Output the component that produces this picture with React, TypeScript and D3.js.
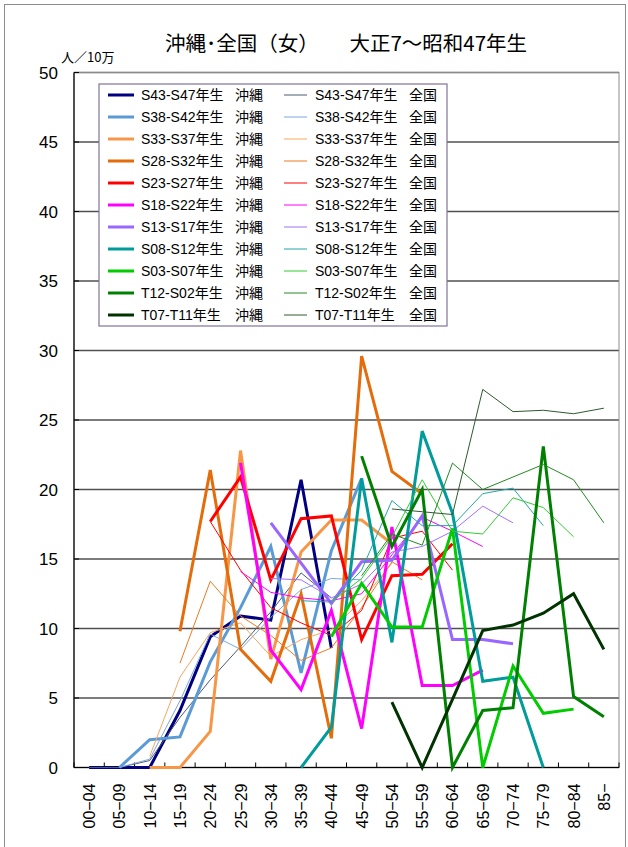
import React from "react";
import * as d3 from "d3";

const categories = ["00−04","05−09","10−14","15−19","20−24","25−29","30−34","35−39","40−44","45−49","50−54","55−59","60−64","65−69","70−74","75−79","80−84","85−"];
const yTicks = [0, 5, 10, 15, 20, 25, 30, 35, 40, 45, 50];
const cohorts = ["S43-S47年生","S38-S42年生","S33-S37年生","S28-S32年生","S23-S27年生","S18-S22年生","S13-S17年生","S08-S12年生","S03-S07年生","T12-S02年生","T07-T11年生"];
const okiColors = ["#000080","#5B9BD5","#F79646","#E46C0A","#FF0000","#FF00FF","#9966FF","#009B9B","#00CC00","#008000","#003300"];
const natColors = ["#4F5B6E","#7AA7DD","#F9A55F","#EE7A20","#FF0000","#FF00FF","#A070FF","#22A6A6","#33CC33","#228B22","#2E5A2E"];
const N = null;

// Okinawa (thick)
const okiS43S47 = [0,0,0,4.1,9.4,10.9,10.6,20.7,8.6,N,N,N,N,N,N,N,N,N];
const okiS38S42 = [N,0,2.0,2.2,7.6,11.5,15.9,6.8,15.6,20.8,N,N,N,N,N,N,N,N];
const okiS33S37 = [N,N,0,0,2.6,22.8,7.8,15.5,17.8,17.8,16.1,N,N,N,N,N,N,N];
const okiS28S32 = [N,N,N,9.8,21.4,8.5,6.2,12.5,2.1,29.6,21.3,19.7,N,N,N,N,N,N];
const okiS23S27 = [N,N,N,N,17.7,20.9,13.5,17.9,18.1,9.2,13.8,13.9,16.1,N,N,N,N,N];
const okiS18S22 = [N,N,N,N,N,21.9,8.45,5.6,11.3,2.8,17.3,5.9,5.9,7.0,N,N,N,N];
const okiS13S17 = [N,N,N,N,N,N,17.6,14.7,11.8,14.8,14.9,18.1,9.2,9.2,8.9,N,N,N];
const okiS08S12 = [N,N,N,N,N,N,N,0,2.9,20.8,9.0,24.2,18.3,6.2,6.5,0,N,N];
const okiS03S07 = [N,N,N,N,N,N,N,N,9.4,13.25,10.1,10.1,17.2,0,7.3,3.9,4.2,N];
const okiT12S02 = [N,N,N,N,N,N,N,N,N,22.4,15.9,20.0,0,4.1,4.3,23.1,5.1,3.65];
const okiT07T11 = [N,N,N,N,N,N,N,N,N,N,4.7,0,4.9,9.85,10.25,11.1,12.5,8.5];

// National (thin)
const natS43S47 = [0,0,0.5,3.6,6.3,8.7,11.2,14.0,12.2,N,N,N,N,N,N,N,N,N];
const natS38S42 = [N,0,0.6,4.8,9.6,8.5,10.8,12.8,13.6,13.5,N,N,N,N,N,N,N,N];
const natS33S37 = [N,N,0.8,6.5,9.7,10.4,8.0,9.2,9.9,12.0,14.7,N,N,N,N,N,N,N];
const natS28S32 = [N,N,N,7.5,13.4,10.9,9.5,7.7,8.6,11.5,14.8,13.5,N,N,N,N,N,N];
const natS23S27 = [N,N,N,N,17.7,14.2,11.5,10.4,9.5,11.3,16.5,17.0,14.2,N,N,N,N,N];
const natS18S22 = [N,N,N,N,N,14.1,12.6,12.2,12.0,12.5,15.3,18.0,17.0,15.9,N,N,N,N];
const natS13S17 = [N,N,N,N,N,N,13.6,13.5,12.2,13.2,15.5,15.9,17.0,18.8,17.6,N,N,N];
const natS08S12 = [N,N,N,N,N,N,N,12.0,11.9,14.2,19.2,17.4,17.4,19.7,20.1,17.4,N,N];
const natS03S07 = [N,N,N,N,N,N,N,N,11.9,13.6,16.6,20.7,17.0,16.8,19.4,18.7,16.6,N];
const natT12S02 = [N,N,N,N,N,N,N,N,N,13.8,16.8,16.0,21.9,20.0,20.9,21.8,20.7,17.6];
const natT07T11 = [N,N,N,N,N,N,N,N,N,N,18.6,18.4,18.2,27.2,25.6,25.7,25.45,25.85];

const okinawa = [okiS43S47, okiS38S42, okiS33S37, okiS28S32, okiS23S27, okiS18S22, okiS13S17, okiS08S12, okiS03S07, okiT12S02, okiT07T11];
const national = [natS43S47, natS38S42, natS33S37, natS28S32, natS23S27, natS18S22, natS13S17, natS08S12, natS03S07, natT12S02, natT07T11];

const FONT = "'Liberation Sans', 'Noto Sans CJK JP', sans-serif";
const CJK = "'Noto Sans CJK JP', sans-serif";

export default function App() {
  const W = 628, H = 847;
  const left = 74, right = 619, top = 72.5, bottom = 767.5;
  const x = d3.scaleBand<string>().domain(categories).range([left, right]);
  const y = d3.scaleLinear().domain([0, 50]).range([bottom, top]);
  const cx = (i: number) => (x(categories[i]) as number) + x.bandwidth() / 2;
  const line = d3.line<number | null>()
    .defined((d) => d != null)
    .x((_, i) => cx(i))
    .y((d) => y(d as number));

  const series: { data: (number | null)[]; color: string; width: number }[] = [];
  okinawa.forEach((d, i) => {
    series.push({ data: d, color: okiColors[i], width: 3 });
    series.push({ data: national[i], color: natColors[i], width: 1 });
  });

  const boundaries = d3.range(categories.length + 1).map((i) => left + i * x.bandwidth());

  const legX = 99, legY = 84, legW = 348, legH = 242, rowH = 22;

  return (
    <svg width={W} height={H} style={{ position: "absolute", left: 0, top: 0, background: "#fff" }}>
      <rect x={4.5} y={4.5} width={621} height={850} fill="#fff" stroke="#8c8c8c" strokeWidth={1} />
      <text x={346} y={51} textAnchor="middle" fontFamily={CJK} fontSize={20.5} fill="#000">
        沖縄･全国（女）　　大正7～昭和47年生
      </text>
      <text x={61} y={62} fontFamily={CJK} fontSize={13} fill="#000">人／10万</text>

      {/* grid */}
      {yTicks.map((t) => (
        <line key={"g" + t} x1={left} x2={right} y1={y(t)} y2={y(t)} stroke="#505050" strokeWidth={1.6} />
      ))}
      <rect x={left} y={top} width={right - left} height={bottom - top} fill="none" stroke="#8c8c8c" strokeWidth={1} />
      <line x1={left} x2={left} y1={top} y2={bottom} stroke="#000" strokeWidth={1.2} />
      <line x1={left} x2={right} y1={bottom} y2={bottom} stroke="#000" strokeWidth={1.2} />
      {yTicks.map((t) => (
        <line key={"yt" + t} x1={left} x2={left + 5} y1={y(t)} y2={y(t)} stroke="#000" strokeWidth={1} />
      ))}
      {boundaries.map((b, i) => (
        <line key={"xt" + i} x1={b} x2={b} y1={bottom} y2={bottom - 5} stroke="#000" strokeWidth={1} />
      ))}
      {yTicks.map((t) => (
        <text key={"yl" + t} x={58} y={y(t) + 6} textAnchor="end" fontFamily={FONT} fontSize={17} fill="#000">{t}</text>
      ))}
      {categories.map((c, i) => (
        <text key={"xl" + i} transform={`translate(${cx(i) + 6},${bottom + 16}) rotate(-90)`} textAnchor="end" fontFamily={FONT} fontSize={16} fill="#000">{c}</text>
      ))}

      {/* series */}
      {series.map((s, i) => (
        <path key={"s" + i} d={line(s.data) || ""} fill="none" stroke={s.color} strokeWidth={s.width} strokeLinejoin="miter" />
      ))}

      {/* legend */}
      <rect x={legX} y={legY} width={legW} height={legH} fill="#fff" stroke="#7f7499" strokeWidth={1.2} />
      {cohorts.map((c, i) => {
        const ry = 95 + i * rowH;
        return (
          <g key={"leg" + i}>
            <line x1={108} x2={134} y1={ry} y2={ry} stroke={okiColors[i]} strokeWidth={3} />
            <text x={141} y={ry + 5} fontFamily={FONT} fontSize={14} fill="#000">{c}</text>
            <text x={235} y={ry + 5} fontFamily={CJK} fontSize={14} fill="#000">沖縄</text>
            <line x1={284} x2={307} y1={ry} y2={ry} stroke={natColors[i]} strokeWidth={1} />
            <text x={315} y={ry + 5} fontFamily={FONT} fontSize={14} fill="#000">{c}</text>
            <text x={409} y={ry + 5} fontFamily={CJK} fontSize={14} fill="#000">全国</text>
          </g>
        );
      })}
    </svg>
  );
}
